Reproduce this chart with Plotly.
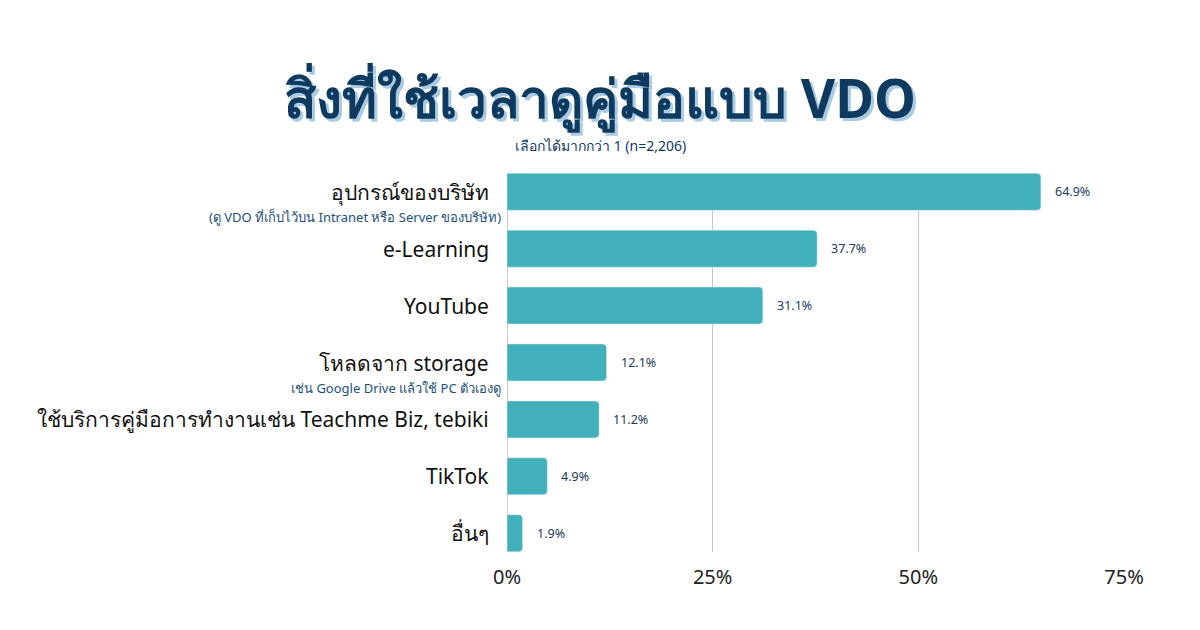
import plotly.graph_objects as go

categories = ["อุปกรณ์ของบริษัท", "e-Learning", "YouTube", "โหลดจาก storage",
              "ใช้บริการคู่มือการทำงานเช่น Teachme Biz, tebiki", "TikTok", "อื่นๆ"]
sublabels = ["(ดู VDO ที่เก็บไว้บน Intranet หรือ Server ของบริษัท)", "", "",
             "เช่น Google Drive แล้วใช้ PC ตัวเองดู", "", "", ""]
values = [64.9, 37.7, 31.1, 12.1, 11.2, 4.9, 1.9]
value_labels = ["64.9%", "37.7%", "31.1%", "12.1%", "11.2%", "4.9%", "1.9%"]
tick_vals = [0, 25, 50, 75]
tick_text = ["0%", "25%", "50%", "75%"]

title = "สิ่งที่ใช้เวลาดูคู่มือแบบ VDO"
subtitle = "เลือกได้มากกว่า 1 (n=2,206)"

NAVY = "#0f3a5f"
BAR = "#41b0bb"
FONT = "Noto Sans, sans-serif"

fig = go.Figure()
fig.add_trace(go.Bar(
    x=values, y=categories, orientation="h",
    marker=dict(color=BAR, cornerradius=4),
    width=0.65,
    hoverinfo="skip",
))

annotations = []
for cat, sub, v, lab in zip(categories, sublabels, values, value_labels):
    annotations.append(dict(x=0, xref="paper", y=cat, yref="y", text=cat,
                            showarrow=False, xanchor="right", yanchor="middle",
                            xshift=-16, font=dict(size=21, color="#111111", family=FONT)))
    if sub:
        annotations.append(dict(x=0, xref="paper", y=cat, yref="y", text=sub,
                                showarrow=False, xanchor="right", yanchor="middle",
                                xshift=-4, yshift=-25,
                                font=dict(size=13, color="#1d4f7c", family=FONT)))
    annotations.append(dict(x=v, xref="x", y=cat, yref="y", text=lab,
                            showarrow=False, xanchor="left", yanchor="middle",
                            xshift=12, font=dict(size=12.5, color="#1d3c5a", family=FONT)))

plot_center = 507 + (1200 - 507 - 76) / 2
annotations.append(dict(
    x=0.5, xref="paper", y=1, yref="paper", text="<b>" + title + "</b>",
    showarrow=False, xanchor="center", yanchor="middle",
    xshift=600 - plot_center, yshift=173 - 97,
    font=dict(size=53, color=NAVY, family=FONT, shadow="3px 3px 0px #a9cbe3")))
annotations.append(dict(
    x=0.5, xref="paper", y=1, yref="paper", text=subtitle, showarrow=False,
    xanchor="center", yanchor="middle",
    xshift=600 - plot_center, yshift=173 - 145,
    font=dict(size=14, color=NAVY, family=FONT)))

fig.update_layout(
    width=1200, height=630,
    margin=dict(l=507, r=76, t=173, b=78),
    plot_bgcolor="white", paper_bgcolor="white",
    showlegend=False,
    xaxis=dict(range=[0, 75], tickvals=tick_vals, ticktext=tick_text,
               showgrid=True, gridcolor="#c8c8c8", gridwidth=1.3,
               zeroline=True, zerolinecolor="#c8c8c8", zerolinewidth=1.3,
               tickfont=dict(size=20, color="#222222", family=FONT),
               ticks="", showline=False, ticklabelstandoff=11),
    yaxis=dict(range=[6.33, -0.33], showticklabels=False, showgrid=False,
               ticks="", zeroline=False, showline=False),
    annotations=annotations,
)

fig.write_html("out.html")
